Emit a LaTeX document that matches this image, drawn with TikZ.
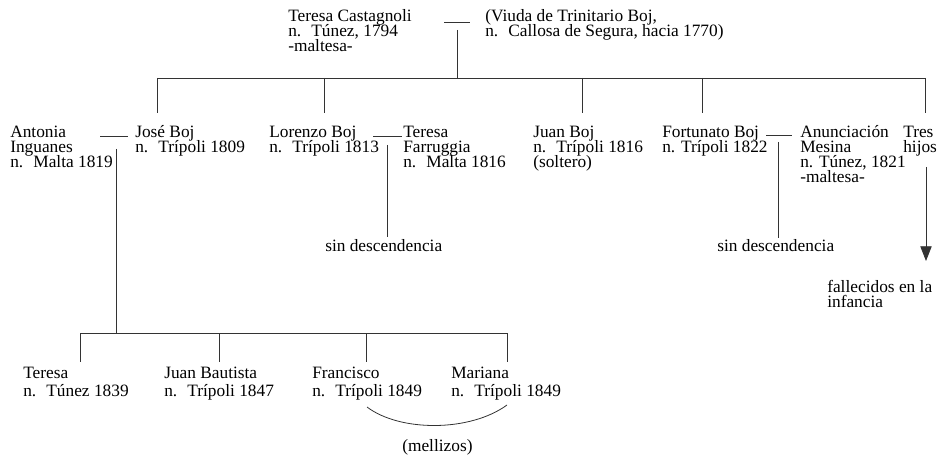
\documentclass[tikz,border=0pt]{standalone}
\usepackage{fontspec}
\setmainfont{Liberation Serif}
\usepackage{tikz}
\usetikzlibrary{arrows.meta}
\newcommand\ficha[1]{\vtop{\lineskiplimit=-100pt\let\\\cr\halign{##\hfil\cr#1\crcr}}}
\newcommand\nac{n.~ }
\tikzstyle{persona}=[anchor=base west,inner sep=0pt,font=\fontsize{13}{11.25}\selectfont]
\tikzstyle{nieto}=[persona,font=\fontsize{13}{13.5}\selectfont]
\tikzstyle{linea}=[line width=.6pt,black!80]
\tikzstyle{flecha}=[linea,-{Triangle[length=11pt,width=8.5pt]}]
\begin{document}
\begin{tikzpicture}[x=.75pt,y=-.75pt]
	\useasboundingbox (0,0) rectangle (939,456);
	\node[persona] (castagnoli) at (288,22) {\ficha{Teresa Castagnoli\\\nac T\'unez, 1794\\-maltesa-}};
	\node[persona] (viuda)      at (485,22) {\ficha{(Viuda de Trinitario Boj,\\\nac Callosa de Segura, hacia 1770)}};
	\node[persona] (antonia)    at (10,138)  {\ficha{Antonia\\Inguanes\\\nac Malta 1819}};
	\node[persona] (jose)       at (135,138) {\ficha{Jos\'e Boj\\\nac Tr\'ipoli 1809}};
	\node[persona] (lorenzo)    at (269,138) {\ficha{Lorenzo Boj\\\nac Tr\'ipoli 1813}};
	\node[persona] (farruggia)  at (403,138) {\ficha{Teresa\\Farruggia\\\nac Malta 1816}};
	\node[persona] (juan)       at (533,138) {\ficha{Juan Boj\\\nac Tr\'ipoli 1816\\(soltero)}};
	\node[persona] (fortunato)  at (662,138) {\ficha{Fortunato Boj\\n. Tr\'ipoli 1822}};
	\node[persona] (mesina)     at (800,138) {\ficha{Anunciaci\'on\\Mesina\\n. T\'unez, 1821\\-maltesa-}};
	\node[persona] (tres)       at (903,138) {\ficha{Tres\\hijos}};
	\node[persona] (sinA)       at (325,252) {sin descendencia};
	\node[persona] (sinB)       at (717,252) {sin descendencia};
	\node[persona] (fallecidos) at (827,292) {\ficha{fallecidos en la\\infancia}};
	\node[nieto] (teresa)    at (23,378)  {\ficha{Teresa\\\nac T\'unez 1839}};
	\node[nieto] (bautista)  at (164,378) {\ficha{Juan Bautista\\\nac Tr\'ipoli 1847}};
	\node[nieto] (francisco) at (312,378) {\ficha{Francisco\\\nac Tr\'ipoli 1849}};
	\node[nieto] (mariana)   at (451,378) {\ficha{Mariana\\\nac Tr\'ipoli 1849}};
	\node[persona] (mellizos) at (402,451) {(mellizos)};
	\coordinate (m0a) at (444,22);  \coordinate (m0b) at (470,22);
	\coordinate (m1a) at (100,136); \coordinate (m1b) at (128,136);
	\coordinate (m2a) at (373,136); \coordinate (m2b) at (402,136);
	\coordinate (m3a) at (766,135); \coordinate (m3b) at (792,135);
	\coordinate (p0) at (457,30);  \coordinate (rama) at (457,78);
	\coordinate (p1) at (116,149); \coordinate (rama1) at (116,333);
	\coordinate (p2) at (387,145); \coordinate (f2) at (387,237);
	\coordinate (p3) at (778,142); \coordinate (f3) at (778,238);
	\coordinate (p4) at (926,167); \coordinate (f4) at (926,261);
	\coordinate (a1) at (157,113); \coordinate (a2) at (324,113); \coordinate (a3) at (582,113);
	\coordinate (a4) at (702,113); \coordinate (a5) at (925,113);
	\coordinate (b1) at (80,362);  \coordinate (b2) at (219,362); \coordinate (b3) at (366,362);
	\coordinate (b4) at (507,362);
	\coordinate (g1) at (367,407); \coordinate (g2) at (507,405);
	\foreach \a/\b in {m0a/m0b,m1a/m1b,m2a/m2b,m3a/m3b,p0/rama,p1/rama1,p2/f2,p3/f3}
		\draw[linea] (\a) -- (\b);
	\draw[linea] (a1 |- rama) -- (a5 |- rama);
	\draw[linea] (b1 |- rama1) -- (b4 |- rama1);
	\foreach \a in {a1,a2,a3,a4,a5} \draw[linea] (\a |- rama) -- (\a);
	\foreach \b in {b1,b2,b3,b4} \draw[linea] (\b |- rama1) -- (\b);
	\draw[flecha] (p4) -- (f4);
	\draw[linea] (g1) .. controls (400,432) and (470,432) .. (g2);
\end{tikzpicture}
\end{document}
